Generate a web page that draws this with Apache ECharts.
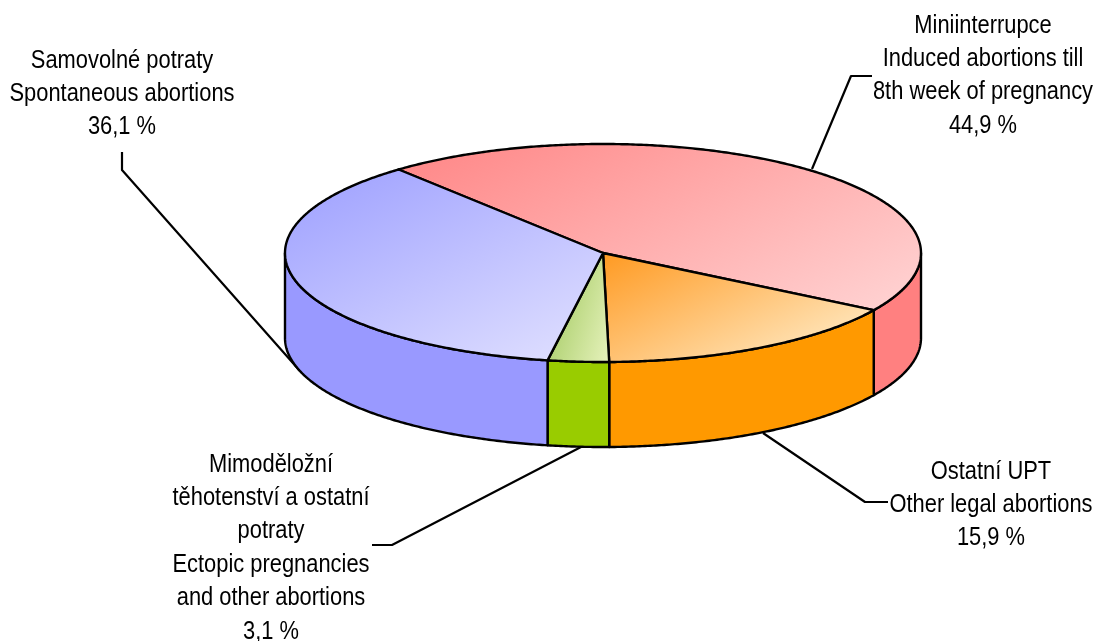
<!DOCTYPE html>
<html>
<head>
<meta charset="utf-8">
<style>html,body{margin:0;padding:0;background:#fff}#c{width:1095px;height:641px}</style>
<script src="https://cdn.jsdelivr.net/npm/echarts@6/dist/echarts.min.js"></script>
</head>
<body>
<div id="c"></div>
<script>
var categories = [
  'Miniinterrupce\nInduced abortions till\n8th week of pregnancy',
  'Ostatní UPT\nOther legal abortions',
  'Mimoděložní\ntěhotenství a ostatní\npotraty\nEctopic pregnancies\nand other abortions',
  'Samovolné potraty\nSpontaneous abortions'
];
var values = [44.9, 15.9, 3.1, 36.1];
var sideColors = ['#ff8080', '#ff9900', '#99cc00', '#9999ff'];
var topFrom = ['#ff8a8a', '#ff9a22', '#b4d478', '#a6a8ff'];
var topTo = ['#ffd0d0', '#ffe0b0', '#e6f2bc', '#dcdcff'];
var gradDir = [[0.5, 1], [0.5, 1], [1, 0.3], [0.5, 1]];
var labelX = [983, 991, 271, 122];
var labelY = [9, 455, 448, 44];
var leaders = [
  [[812, 169], [851, 76], [872, 76]],
  [[763, 433], [865, 502], [888, 502]],
  [[581, 447], [392, 545], [372, 545]],
  [[122, 152], [122, 170], [300, 371]]
];

var CX = 603, CY = 253, RX = 318, RY = 109, DEPTH = 85, START = -40;
var total = values.reduce(function (a, b) { return a + b; }, 0);

function pt(deg, dy) {
  var r = deg * Math.PI / 180;
  return [CX + RX * Math.sin(r), CY - RY * Math.cos(r) + (dy || 0)];
}
function arc(a0, a1, dy) {
  var out = [], n = Math.max(2, Math.ceil(Math.abs(a1 - a0) * 2));
  for (var i = 0; i <= n; i++) out.push(pt(a0 + (a1 - a0) * i / n, dy));
  return out;
}
function gradientFor(points, i) {
  var d = gradDir[i], lo = Infinity, hi = -Infinity;
  var len = Math.sqrt(d[0] * d[0] + d[1] * d[1]), ux = d[0] / len, uy = d[1] / len;
  points.forEach(function (p) {
    var s = p[0] * ux + p[1] * uy;
    if (s < lo) lo = s;
    if (s > hi) hi = s;
  });
  return {
    type: 'linear', global: true,
    x: ux * lo, y: uy * lo, x2: ux * hi, y2: uy * hi,
    colorStops: [{ offset: 0, color: topFrom[i] }, { offset: 1, color: topTo[i] }]
  };
}
function renderItem(params, api) {
  var i = params.dataIndex, before = 0;
  for (var k = 0; k < i; k++) before += values[k];
  var a0 = START + before / total * 360;
  var a1 = a0 + api.value(0) / total * 360;
  var children = [];
  var w0 = Math.max(a0, 90), w1 = Math.min(a1, 270);
  var line = { stroke: '#000', lineWidth: 2.4, lineJoin: 'round' };
  if (w1 > w0) {
    children.push({
      type: 'polygon',
      shape: { points: arc(w0, w1, 0).concat(arc(w1, w0, DEPTH)) },
      style: Object.assign({ fill: sideColors[i] }, line)
    });
  }
  var pts = [[CX, CY]].concat(arc(a0, a1, 0));
  children.push({
    type: 'polygon',
    shape: { points: pts },
    style: Object.assign({ fill: gradientFor(pts, i) }, line)
  });
  return { type: 'group', children: children };
}

var graphics = [];
categories.forEach(function (c, i) {
  graphics.push({
    type: 'polyline', z: 1, silent: true,
    shape: { points: leaders[i] },
    style: { stroke: '#000', lineWidth: 2.2, fill: null, lineJoin: 'round' }
  });
  graphics.push({
    type: 'text', z: 5, silent: true, x: labelX[i], y: labelY[i], scaleX: 0.875,
    style: {
      text: c + '\n' + String(values[i]).replace('.', ',') + ' %',
      fontFamily: '"Liberation Sans"', fontSize: 25, lineHeight: 33.4,
      fill: '#000', align: 'center', verticalAlign: 'top'
    }
  });
});

var chart = echarts.init(document.getElementById('c'), null, { renderer: 'canvas' });
chart.setOption({
  animation: false,
  backgroundColor: '#fff',
  graphic: { elements: graphics },
  series: [{
    type: 'custom',
    coordinateSystem: 'none',
    silent: true,
    renderItem: renderItem,
    data: values.map(function (v) { return [v]; })
  }]
});
</script>
</body>
</html>
